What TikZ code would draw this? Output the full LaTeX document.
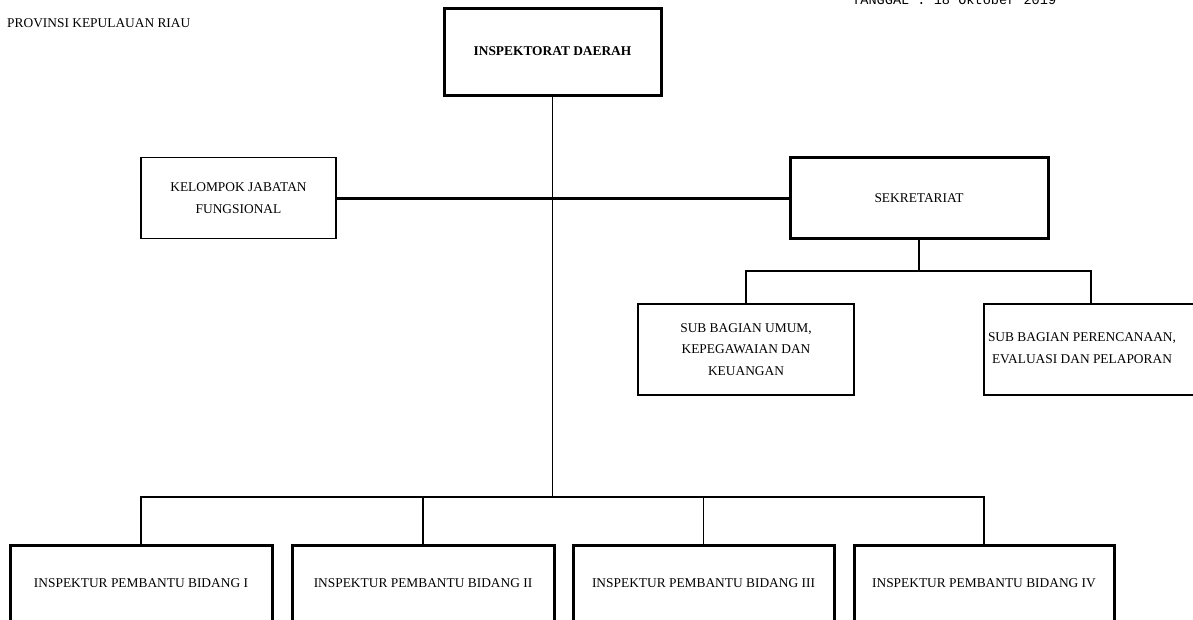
\documentclass[tikz,border=0pt]{standalone}
\usepackage{fontspec}
\setmainfont{Liberation Serif}
\newfontfamily\monofnt{Liberation Mono}
\tikzset{
  txt/.style={font=\fontsize{13.4}{21.5}\selectfont, inner sep=0pt, align=center},
  thickbox/.style={draw, line width=3pt, rectangle, inner sep=0pt, font=\fontsize{13.4}{21.5}\selectfont, align=center},
  thinbox/.style={draw, line width=1.4pt, rectangle, inner sep=0pt, font=\fontsize{13.4}{21.5}\selectfont, align=center},
  conn/.style={line width=1.4pt},
  thickconn/.style={line width=3pt},
}
\begin{document}
\begin{tikzpicture}[x=1pt,y=-1pt]
\useasboundingbox (0,0) rectangle (1193,619);
\clip (0,0) rectangle (1193,619);
\fill[white] (0,0) rectangle (1193,619);

% header texts
\node[txt, anchor=west] (prov) at (7,23) {PROVINSI KEPULAUAN RIAU};
\node[anchor=base west, inner sep=0pt, font=\monofnt\fontsize{13.6}{16}\selectfont] (tgl) at (852,4) {TANGGAL  : 18 Oktober 2019};

% boxes
\node[thickbox, minimum width=217, minimum height=87, font=\fontsize{13.4}{21.5}\selectfont\bfseries] (top) at (552.5,51.5) {INSPEKTORAT DAERAH};
\node[thinbox, minimum width=195, minimum height=81] (kjf) at (238.5,198) {KELOMPOK JABATAN\\FUNGSIONAL};
\node[thickbox, minimum width=258, minimum height=81] (sek) at (919,198) {SEKRETARIAT};
\node[thinbox, minimum width=216, minimum height=91] (sub1) at (746,349.5) {SUB BAGIAN UMUM,\\KEPEGAWAIAN DAN\\KEUANGAN};
\node[thinbox, minimum width=214, minimum height=91] (sub2) at (1091,349.5) {};
\node[txt] (sub2t) at (1082,348) {SUB BAGIAN PERENCANAAN,\\EVALUASI DAN PELAPORAN};

\node[thickbox, minimum width=262, minimum height=76] (ib1) at (141,583) {INSPEKTUR PEMBANTU BIDANG I};
\node[thickbox, minimum width=262, minimum height=76] (ib2) at (423,583) {INSPEKTUR PEMBANTU BIDANG II};
\node[thickbox, minimum width=261, minimum height=76] (ib3) at (703.5,583) {INSPEKTUR PEMBANTU BIDANG III};
\node[thickbox, minimum width=260, minimum height=76] (ib4) at (984,583) {INSPEKTUR PEMBANTU BIDANG IV};

% connectors
\coordinate (bus) at (552.5,497);
\coordinate (sbus) at (919,271);
\draw[thickconn] (kjf.east) -- (sek.west);
\draw[conn] (top.south) -- (bus);
\draw[conn] (ib1.north) |- (bus);
\draw[conn] (bus) -| (ib4.north);
\draw[conn] (ib2.north) -- (ib2.north |- bus);
\draw[conn] (ib3.north) -- (ib3.north |- bus);
\draw[conn] (sek.south) -- (sbus);
\draw[conn] (sub1.north) |- (sbus);
\draw[conn] (sbus) -| (sub2.north);
\end{tikzpicture}
\end{document}
